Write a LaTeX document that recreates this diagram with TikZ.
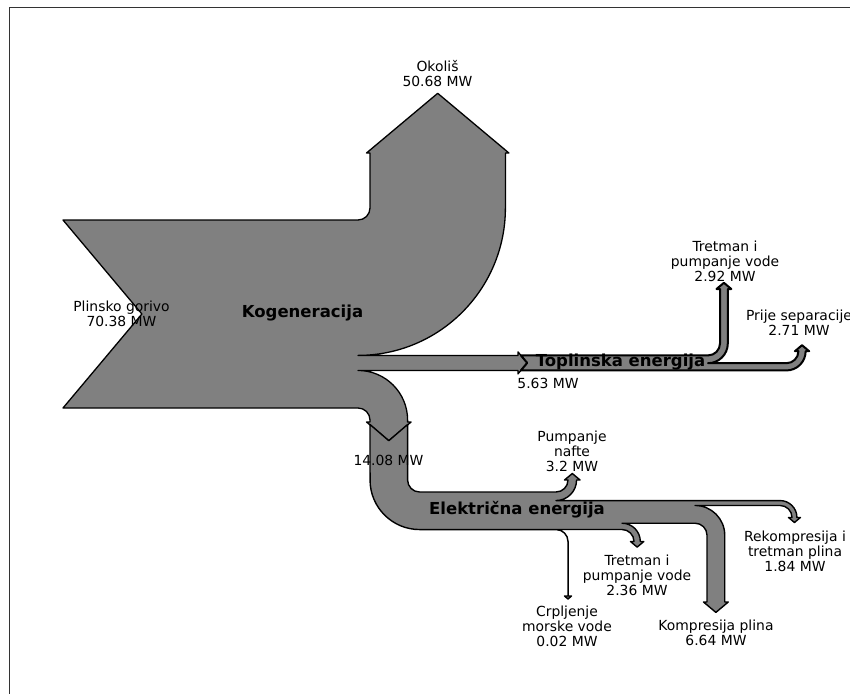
\documentclass[tikz,border=0pt]{standalone}
\usepackage{fontspec}
\setmainfont{DejaVu Sans}
\definecolor{flowgray}{HTML}{808080}
\definecolor{framecol}{HTML}{333333}
\begin{document}
\begin{tikzpicture}[x=1pt,y=-1pt,
  flow/.style={fill=flowgray, draw=black, line width=1.3pt, line join=round},
  lbl/.style={align=center, font=\fontsize{13.9}{15}\selectfont, inner sep=0pt, text=black},
  blbl/.style={font=\fontsize{16.5}{18}\selectfont\bfseries, inner sep=0pt, text=black}]
\useasboundingbox (0,0) rectangle (850,693);
\clip (0,0) rectangle (850,693);
\fill[white] (0,0) rectangle (850,693);
% axes frame
\draw[framecol, line width=1pt] (9,700) -- (9,8) -- (860,8);

% main diagram: Kogeneracija
\draw[flow] (63,220) -- (358,220) arc[start angle=90, end angle=0, radius=12]
  -- (370,153) -- (366.5,153) -- (437.7,93.3) -- (508.9,153) -- (505.4,153)
  -- (505.4,208) arc[start angle=0, end angle=90, radius=147.4]
  -- (518,355.4) -- (518,351.9) -- (527.2,362.9) -- (518,373.9) -- (518,370.44)
  -- (358,370.44) arc[start angle=-90, end angle=0, radius=49.6]
  -- (407.6,422) -- (411.1,422) -- (388.8,440.7) -- (366.5,422) -- (370,422)
  -- (370,420) arc[start angle=0, end angle=-90, radius=12]
  -- (63,408) -- (141.9,314) -- cycle;

% Toplinska energija
\draw[flow, line width=2pt] (520.9,355.4) -- (708,355.4) arc[start angle=90, end angle=0, radius=12]
  -- (720,289) -- (716.5,289) -- (723.9,282.8) -- (731.3,289) -- (727.8,289)
  -- (727.8,343.4) arc[start angle=0, end angle=90, radius=19.8]
  -- (786.4,363.2) arc[start angle=90, end angle=0, radius=12]
  -- (794.9,351.2) -- (802.02,345.2) -- (809.14,351.2) -- (805.64,351.2)
  arc[start angle=0, end angle=90, radius=19.24]
  -- (520.9,370.44) -- (527.2,362.9) -- cycle;

% Elektricna energija
\draw[flow, line width=1.4pt] (370,424.5) -- (388.8,440.7) -- (407.6,424.5)
  -- (407.6,480) arc[start angle=180, end angle=90, radius=12]
  -- (556,492) arc[start angle=90, end angle=0, radius=12]
  -- (564.5,480) -- (572.3,473.5) -- (580.05,480) -- (576.55,480)
  arc[start angle=0, end angle=90, radius=20.55]
  -- (780,500.55) arc[start angle=-90, end angle=0, radius=16.91]
  -- (800.41,517.46) -- (794.45,522.5) -- (788.5,517.46) -- (792,517.46)
  arc[start angle=0, end angle=-90, radius=12]
  -- (695,505.46) arc[start angle=-90, end angle=0, radius=29.74]
  -- (724.74,602) -- (728.24,602) -- (715.87,612.4) -- (703.5,602) -- (707,602)
  -- (707,535.2) arc[start angle=0, end angle=-90, radius=12]
  -- (622,523.2) arc[start angle=-90, end angle=0, radius=18.3]
  -- (643.8,541.5) -- (637.15,547.1) -- (630.5,541.5) -- (634,541.5)
  arc[start angle=0, end angle=-90, radius=12]
  -- (556,529.5) arc[start angle=-90, end angle=0, radius=12.05]
  -- (568.05,596) -- (571.5,596) -- (568,599) -- (564.5,596) -- (568,596)
  -- (568,541.55) arc[start angle=0, end angle=-90, radius=12]
  -- (419.6,529.55) arc[start angle=90, end angle=180, radius=49.55]
  -- cycle;

% labels
\node[lbl] (okolis) at (437.5,73.5) {Okoliš\\50.68 MW};
\node[lbl] (plin) at (121.5,313.5) {Plinsko gorivo\\70.38 MW};
\node[blbl] (kog) at (302.5,313) {Kogeneracija};
\node[lbl] (top563) at (548,383) {5.63 MW};
\node[blbl] (topl) at (620.5,362) {Toplinska energija};
\node[lbl] (tretT) at (725,261) {Tretman i\\pumpanje vode\\2.92 MW};
\node[lbl] (prije) at (799,322.5) {Prije separacije\\2.71 MW};
\node[lbl] (el1408) at (388.5,460) {14.08 MW};
\node[blbl] (elek) at (517,510) {Električna energija};
\node[lbl] (pump) at (572,451.5) {Pumpanje\\nafte\\3.2 MW};
\node[lbl] (tretE) at (637,575) {Tretman i\\pumpanje vode\\2.36 MW};
\node[lbl] (crp) at (567,626.5) {Crpljenje\\morske vode\\0.02 MW};
\node[lbl] (komp) at (716,632.5) {Kompresija plina\\6.64 MW};
\node[lbl] (rekomp) at (795,551.5) {Rekompresija i\\tretman plina\\1.84 MW};
\end{tikzpicture}
\end{document}
